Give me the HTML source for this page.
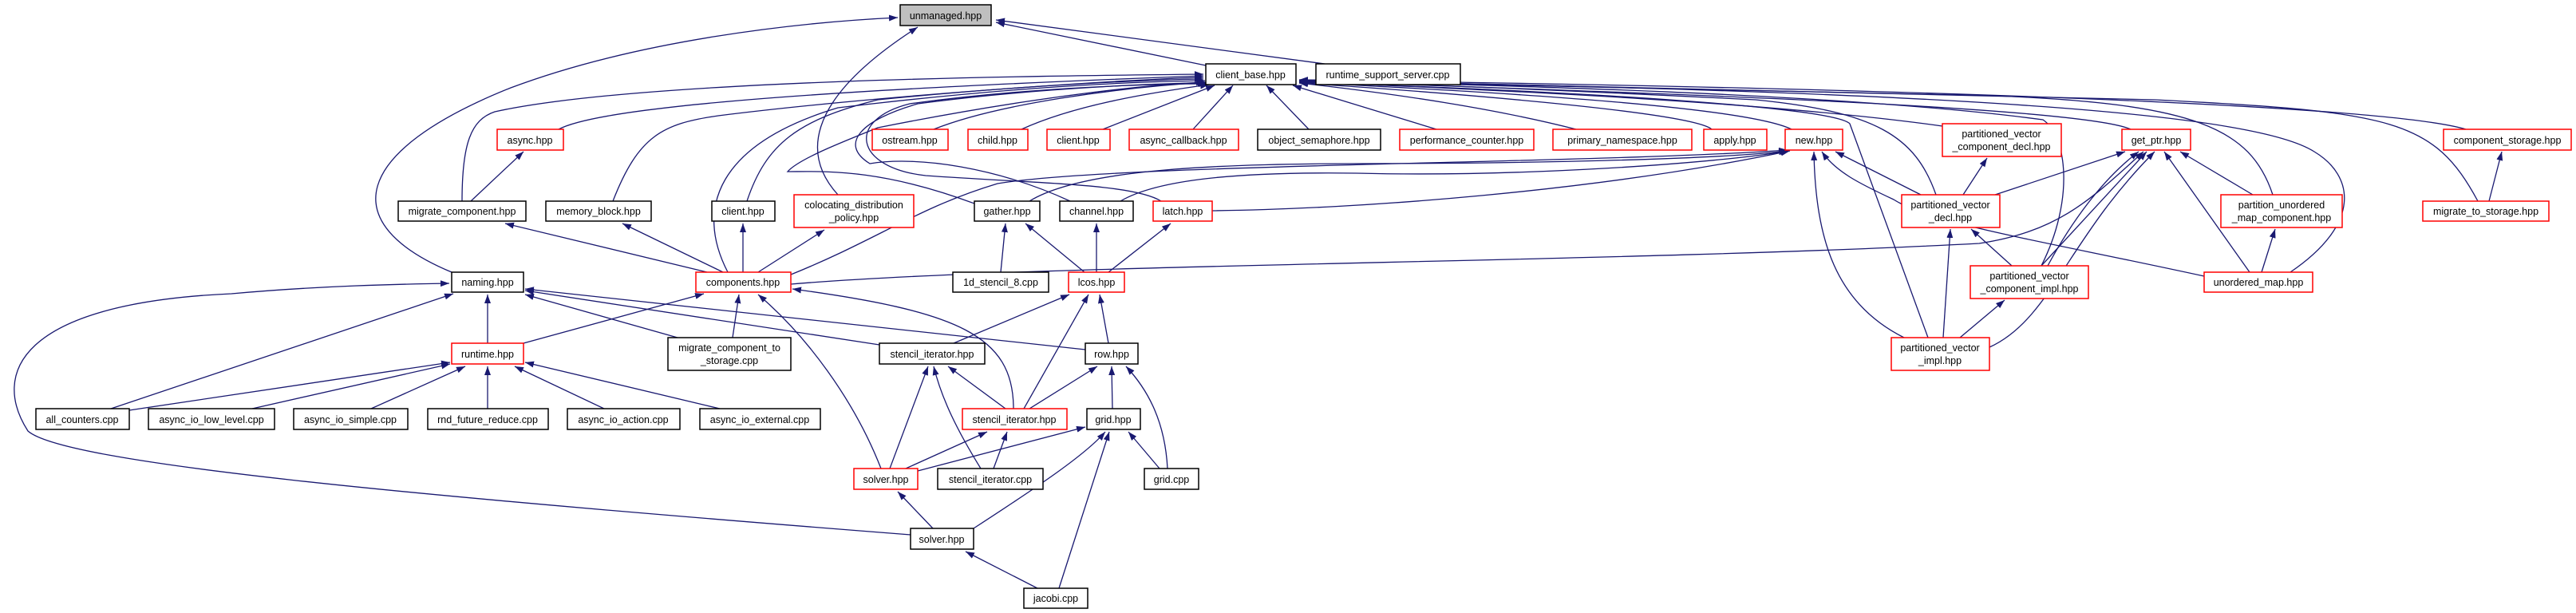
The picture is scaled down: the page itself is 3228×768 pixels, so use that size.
<!DOCTYPE html>
<html><head><meta charset="utf-8"><style>
html,body{margin:0;padding:0;background:#fff;}
svg{display:block;}
text{font-family:"Liberation Sans",sans-serif;font-size:12.5px;fill:#000;text-anchor:middle;}
.e{fill:none;stroke:#191970;stroke-width:1.3;}
.n{fill:#fff;stroke:#000;stroke-width:1.5;}
.r{fill:#fff;stroke:#f00;stroke-width:1.5;}
.g{fill:#bfbfbf;stroke:#000;stroke-width:1.5;}
</style></head><body>
<svg width="3228" height="768" viewBox="0 0 3228 768" xmlns="http://www.w3.org/2000/svg">
<defs><marker id="a" markerUnits="userSpaceOnUse" markerWidth="12" markerHeight="9" refX="11" refY="4" orient="auto"><path d="M0,0 L11,4 L0,8 z" fill="#191970"/></marker></defs>
<g class="e" marker-end="url(#a)">
<!-- into unmanaged -->
<path d="M1511,82 L1248,28"/>
<path d="M1660,80 L1248,25"/>
<path d="M566,341 C420,280 440,190 640,110 C800,50 1000,28 1125,22"/>
<path d="M1050,244 C1010,200 1000,130 1150,34"/>
<!-- into client_base left/bottom -->
<path d="M700,162 C760,130 1100,110 1508,95"/>
<path d="M579,252 C579,180 590,150 620,140 C800,100 1300,95 1508,93"/>
<path d="M768,252 C800,170 830,155 900,145 C1100,120 1400,100 1508,97"/>
<path d="M936,252 C960,180 1000,150 1100,125 C1300,105 1450,100 1508,99"/>
<path d="M912,341 C870,260 900,180 1050,135 C1300,105 1450,102 1510,101"/>
<path d="M1221,255 C1100,210 1030,215 987,215 C1000,200 1050,180 1100,160 C1300,120 1450,105 1510,103"/>
<path d="M1341,252 C1250,210 1150,195 1090,205 C1050,180 1080,150 1150,130 C1300,110 1460,104 1512,104"/>
<path d="M1455,252 C1420,230 1300,230 1160,220 C1070,210 1060,150 1140,130 C1300,108 1460,105 1513,105"/>
<path d="M1170,162 C1250,130 1400,110 1512,103"/>
<path d="M1280,162 C1350,130 1450,115 1515,106"/>
<path d="M1382,162 L1522,107"/>
<path d="M1495,162 L1545,107"/>
<path d="M1640,162 L1587,107"/>
<path d="M1800,162 L1620,107"/>
<path d="M1975,162 C1850,130 1700,112 1628,104"/>
<!-- into client_base right -->
<path d="M2145,162 C2120,140 1800,115 1628,104"/>
<path d="M2245,162 C2180,130 1800,112 1628,103"/>
<path d="M2434,158 C2200,125 1800,110 1628,102"/>
<path d="M2670,162 C2600,130 1900,112 1628,101"/>
<path d="M2848,244 C2820,160 2750,130 2500,120 C2000,110 1700,104 1628,101"/>
<path d="M3090,162 C3000,135 2500,112 1628,100"/>
<path d="M3105,252 C3050,150 3000,140 2700,125 C2200,110 1700,102 1628,100"/>
<path d="M2870,341 C2960,280 2950,220 2900,190 C2830,145 2500,115 1628,101"/>
<path d="M2426,244 C2400,170 2350,140 2200,125 C1900,110 1700,103 1628,102"/>
<path d="M2558,333 C2600,250 2590,170 2560,150 C2300,115 1800,105 1628,101"/>
<path d="M2416,423 L2318,155 C2300,135 2000,115 1628,103"/>
<!-- into new -->
<path d="M1290,252 C1350,215 1500,205 1700,205 C1900,205 2150,200 2240,189"/>
<path d="M1404,252 C1450,225 1550,215 1700,217 C1900,222 2150,205 2242,189"/>
<path d="M1519,264 C1700,262 2000,240 2243,189"/>
<path d="M991,344 C1100,300 1150,260 1250,230 C1400,205 2000,205 2240,188"/>
<path d="M2762,346 C2550,300 2420,280 2373,250 C2330,230 2300,215 2283,190"/>
<path d="M2407,244 L2300,190"/>
<path d="M2386,423 C2300,380 2275,300 2273,190"/>
<!-- into get_ptr -->
<path d="M991,356 C1300,330 2000,330 2480,305 C2580,290 2620,250 2686,190"/>
<path d="M2500,244 L2663,190"/>
<path d="M2558,333 L2690,190"/>
<path d="M2566,333 C2600,270 2640,220 2680,190"/>
<path d="M2493,435 C2570,400 2590,300 2700,190"/>
<path d="M2819,341 L2712,190"/>
<path d="M2823,244 L2732,190"/>
<!-- others right -->
<path d="M2460,244 L2490,198"/>
<path d="M2521,333 L2470,287"/>
<path d="M2435,423 L2444,287"/>
<path d="M2456,423 L2512,376"/>
<path d="M2834,341 L2851,287"/>
<path d="M3119,252 L3135,190"/>
<!-- left middle -->
<path d="M590,252 L656,190"/>
<path d="M886,341 L633,280"/>
<path d="M906,341 L780,280"/>
<path d="M931,341 L931,280"/>
<path d="M950,341 L1033,288"/>
<path d="M1254,341 L1260,280"/>
<path d="M1359,341 L1285,280"/>
<path d="M1374,341 L1374,280"/>
<path d="M1389,341 L1467,280"/>
<!-- naming/runtime/components -->
<path d="M611,430 L611,369"/>
<path d="M656,430 L882,368"/>
<path d="M139,512 L568,368"/>
<path d="M162,514 L564,454"/>
<path d="M316,512 L564,456"/>
<path d="M465,512 L583,459"/>
<path d="M611,512 L611,459"/>
<path d="M757,512 L645,459"/>
<path d="M902,512 L658,454"/>
<path d="M849,423 L658,369"/>
<path d="M918,423 L926,369"/>
<path d="M1102,432 L658,364"/>
<path d="M1360,438 L658,362"/>
<path d="M1104,587 C1070,500 1010,420 950,369"/>
<path d="M1270,512 C1270,420 1200,390 993,362"/>
<path d="M1141,670 C500,620 80,580 35,540 C-10,470 20,380 290,368 C400,358 500,356 563,355"/>
<!-- lcos / stencil cluster -->
<path d="M1195,430 L1340,369"/>
<path d="M1283,512 L1364,369"/>
<path d="M1389,430 L1378,369"/>
<path d="M1260,512 L1188,459"/>
<path d="M1290,512 L1375,459"/>
<path d="M1394,512 L1393,459"/>
<path d="M1463,587 C1460,530 1440,490 1411,459"/>
<path d="M1453,587 L1414,541"/>
<path d="M1115,587 L1163,459"/>
<path d="M1135,587 L1237,541"/>
<path d="M1150,590 L1360,535"/>
<path d="M1229,587 C1200,540 1180,500 1170,459"/>
<path d="M1245,587 L1262,541"/>
<path d="M1169,662 L1125,616"/>
<path d="M1220,662 C1300,610 1360,570 1385,541"/>
<path d="M1300,737 L1210,691"/>
<path d="M1327,737 L1390,541"/>
</g>
<!-- nodes -->
<g>
<rect class="g" x="1128" y="6" width="114" height="26"/><text x="1185" y="24">unmanaged.hpp</text>
<rect class="n" x="1511" y="80" width="113" height="26"/><text x="1567" y="98">client_base.hpp</text>
<rect class="n" x="1649" y="80" width="181" height="26"/><text x="1739" y="98">runtime_support_server.cpp</text>
<rect class="r" x="623" y="162" width="83" height="26"/><text x="664" y="180">async.hpp</text>
<rect class="r" x="1093" y="162" width="95" height="26"/><text x="1140" y="180">ostream.hpp</text>
<rect class="r" x="1213" y="162" width="75" height="26"/><text x="1250" y="180">child.hpp</text>
<rect class="r" x="1312" y="162" width="79" height="26"/><text x="1351" y="180">client.hpp</text>
<rect class="r" x="1415" y="162" width="137" height="26"/><text x="1483" y="180">async_callback.hpp</text>
<rect class="n" x="1576" y="162" width="154" height="26"/><text x="1653" y="180">object_semaphore.hpp</text>
<rect class="r" x="1754" y="162" width="168" height="26"/><text x="1838" y="180">performance_counter.hpp</text>
<rect class="r" x="1946" y="162" width="174" height="26"/><text x="2033" y="180">primary_namespace.hpp</text>
<rect class="r" x="2135" y="162" width="79" height="26"/><text x="2174" y="180">apply.hpp</text>
<rect class="r" x="2237" y="162" width="72" height="26"/><text x="2273" y="180">new.hpp</text>
<rect class="r" x="2434" y="155" width="149" height="41"/><text x="2508" y="172">partitioned_vector</text><text x="2508" y="188">_component_decl.hpp</text>
<rect class="r" x="2659" y="162" width="86" height="26"/><text x="2702" y="180">get_ptr.hpp</text>
<rect class="r" x="3062" y="162" width="160" height="26"/><text x="3142" y="180">component_storage.hpp</text>
<rect class="n" x="499" y="252" width="160" height="25"/><text x="579" y="269">migrate_component.hpp</text>
<rect class="n" x="684" y="252" width="132" height="25"/><text x="750" y="269">memory_block.hpp</text>
<rect class="n" x="892" y="252" width="79" height="25"/><text x="931" y="269">client.hpp</text>
<rect class="r" x="995" y="244" width="150" height="41"/><text x="1070" y="261">colocating_distribution</text><text x="1070" y="277">_policy.hpp</text>
<rect class="n" x="1221" y="252" width="82" height="25"/><text x="1262" y="269">gather.hpp</text>
<rect class="n" x="1328" y="252" width="92" height="25"/><text x="1374" y="269">channel.hpp</text>
<rect class="r" x="1445" y="252" width="74" height="25"/><text x="1482" y="269">latch.hpp</text>
<rect class="r" x="2383" y="244" width="123" height="41"/><text x="2444" y="261">partitioned_vector</text><text x="2444" y="277">_decl.hpp</text>
<rect class="r" x="2783" y="244" width="152" height="41"/><text x="2859" y="261">partition_unordered</text><text x="2859" y="277">_map_component.hpp</text>
<rect class="r" x="3036" y="252" width="158" height="25"/><text x="3115" y="269">migrate_to_storage.hpp</text>
<rect class="n" x="566" y="341" width="90" height="25"/><text x="611" y="358">naming.hpp</text>
<rect class="r" x="872" y="341" width="119" height="25"/><text x="931" y="358">components.hpp</text>
<rect class="n" x="1194" y="341" width="120" height="25"/><text x="1254" y="358">1d_stencil_8.cpp</text>
<rect class="r" x="1339" y="341" width="70" height="25"/><text x="1374" y="358">lcos.hpp</text>
<rect class="r" x="2469" y="333" width="148" height="41"/><text x="2543" y="350">partitioned_vector</text><text x="2543" y="366">_component_impl.hpp</text>
<rect class="r" x="2762" y="341" width="136" height="25"/><text x="2830" y="358">unordered_map.hpp</text>
<rect class="r" x="566" y="430" width="90" height="26"/><text x="611" y="448">runtime.hpp</text>
<rect class="n" x="837" y="423" width="154" height="41"/><text x="914" y="440">migrate_component_to</text><text x="914" y="456">_storage.cpp</text>
<rect class="n" x="1102" y="430" width="132" height="26"/><text x="1168" y="448">stencil_iterator.hpp</text>
<rect class="n" x="1360" y="430" width="66" height="26"/><text x="1393" y="448">row.hpp</text>
<rect class="r" x="2370" y="423" width="123" height="41"/><text x="2431" y="440">partitioned_vector</text><text x="2431" y="456">_impl.hpp</text>
<rect class="n" x="45" y="512" width="117" height="26"/><text x="103" y="530">all_counters.cpp</text>
<rect class="n" x="186" y="512" width="158" height="26"/><text x="265" y="530">async_io_low_level.cpp</text>
<rect class="n" x="368" y="512" width="143" height="26"/><text x="439" y="530">async_io_simple.cpp</text>
<rect class="n" x="536" y="512" width="151" height="26"/><text x="611" y="530">rnd_future_reduce.cpp</text>
<rect class="n" x="711" y="512" width="141" height="26"/><text x="781" y="530">async_io_action.cpp</text>
<rect class="n" x="877" y="512" width="151" height="26"/><text x="952" y="530">async_io_external.cpp</text>
<rect class="r" x="1206" y="512" width="131" height="26"/><text x="1271" y="530">stencil_iterator.hpp</text>
<rect class="n" x="1362" y="512" width="67" height="26"/><text x="1395" y="530">grid.hpp</text>
<rect class="r" x="1070" y="587" width="80" height="26"/><text x="1110" y="605">solver.hpp</text>
<rect class="n" x="1175" y="587" width="132" height="26"/><text x="1241" y="605">stencil_iterator.cpp</text>
<rect class="n" x="1434" y="587" width="68" height="26"/><text x="1468" y="605">grid.cpp</text>
<rect class="n" x="1141" y="662" width="79" height="26"/><text x="1180" y="680">solver.hpp</text>
<rect class="n" x="1283" y="737" width="80" height="25"/><text x="1323" y="754">jacobi.cpp</text>
</g>
</svg>
</body></html>
